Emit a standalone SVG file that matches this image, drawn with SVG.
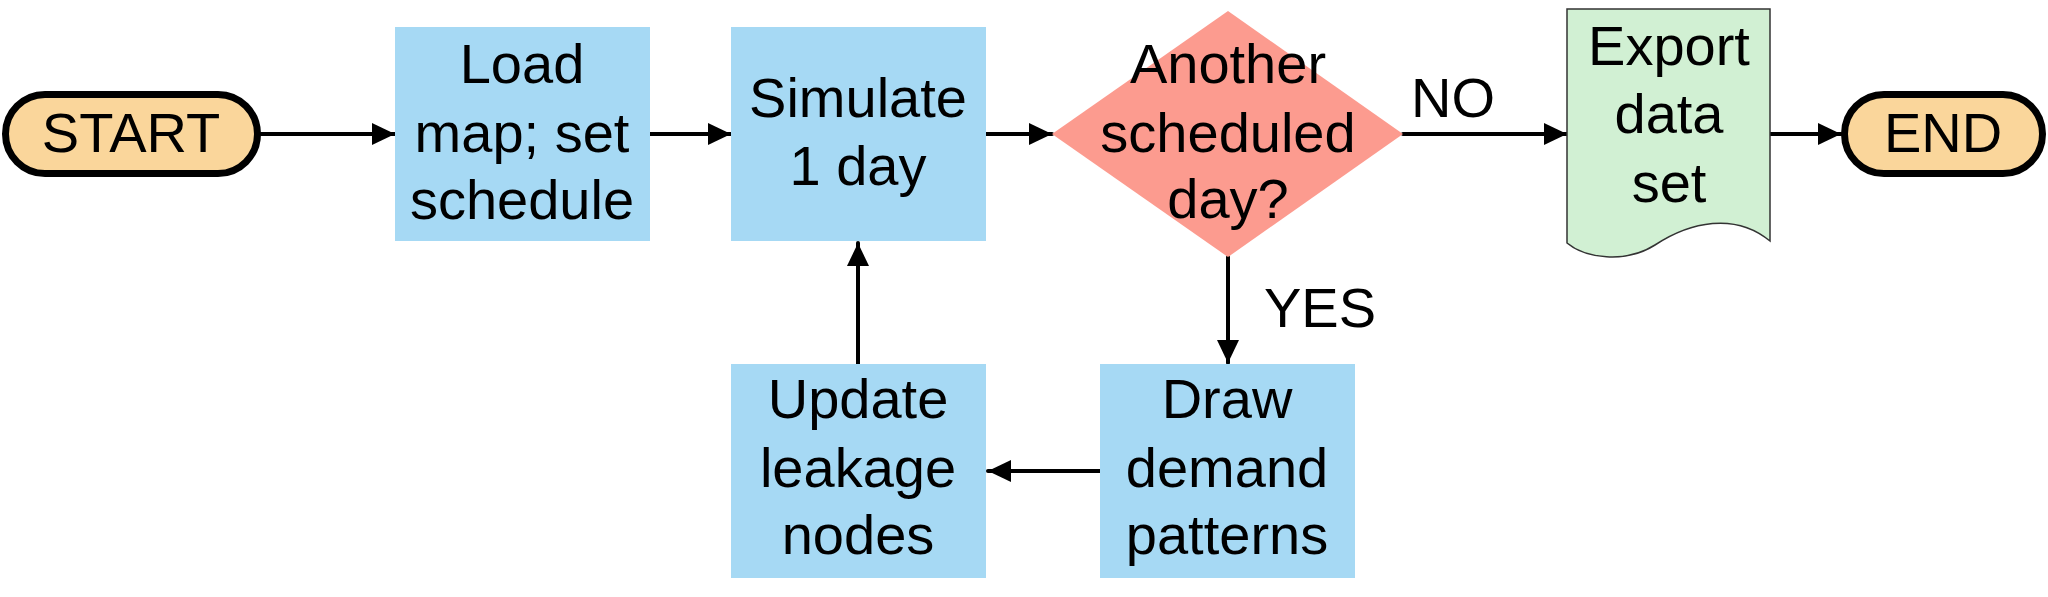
<svg xmlns="http://www.w3.org/2000/svg" width="2048" height="597" viewBox="0 0 2048 597">
<style>
text{font-family:"Liberation Sans",Arial,sans-serif;font-size:56px;fill:#000;text-anchor:middle}
.box{fill:#a6d9f4}
.pill{fill:#fad69b;stroke:#000;stroke-width:7}
.dia{fill:#fc9b8f}
.doc{fill:#d1f0d3;stroke:#333;stroke-width:1.5}
.con{stroke:#000;stroke-width:4;fill:none;stroke-linecap:round;marker-end:url(#ah)}
</style>
<defs>
<marker id="ah" markerUnits="userSpaceOnUse" markerWidth="24" markerHeight="24" refX="23" refY="11" orient="auto">
<path d="M0,0 L23,11 L0,22 z" fill="#000"/>
</marker>
</defs>
<rect width="2048" height="597" fill="#fff"/>
<g id="connectors">
<line class="con" x1="261" y1="134" x2="395" y2="134"/>
<line class="con" x1="650" y1="134" x2="731" y2="134"/>
<line class="con" x1="986" y1="134" x2="1052" y2="134"/>
<line class="con" x1="1403" y1="134" x2="1567" y2="134"/>
<line class="con" x1="1770" y1="134" x2="1841" y2="134"/>
<line class="con" x1="1228" y1="257" x2="1228" y2="363"/>
<line class="con" x1="1100" y1="471" x2="988" y2="471"/>
<line class="con" x1="858" y1="364" x2="858" y2="243"/>
<text x="1453" y="117">NO</text>
<text x="1320" y="327">YES</text>
</g>
<g id="start">
<rect class="pill" x="5.5" y="94.5" width="252" height="79" rx="39.5"/>
<text x="131" y="152">START</text>
</g>
<g id="load">
<rect class="box" x="395" y="27" width="255" height="214"/>
<text x="522" y="83">Load</text>
<text x="522" y="152">map; set</text>
<text x="522" y="219">schedule</text>
</g>
<g id="simulate">
<rect class="box" x="731" y="27" width="255" height="214"/>
<text x="858" y="117">Simulate</text>
<text x="858" y="185">1 day</text>
</g>
<g id="decision">
<polygon class="dia" points="1228,11 1403,134 1228,257 1052,134"/>
<text x="1228" y="83">Another</text>
<text x="1228" y="152">scheduled</text>
<text x="1228" y="218">day?</text>
</g>
<g id="export">
<path class="doc" d="M1567,9 H1770 V241 C1735,212 1690,222 1655,245 C1625,264 1585,258 1567,243 Z"/>
<text x="1669" y="65">Export</text>
<text x="1669" y="133">data</text>
<text x="1669" y="202">set</text>
</g>
<g id="end">
<rect class="pill" x="1844.5" y="94.5" width="198" height="79" rx="39.5"/>
<text x="1943" y="152">END</text>
</g>
<g id="draw">
<rect class="box" x="1100" y="364" width="255" height="214"/>
<text x="1227" y="418">Draw</text>
<text x="1227" y="487">demand</text>
<text x="1227" y="554">patterns</text>
</g>
<g id="update">
<rect class="box" x="731" y="364" width="255" height="214"/>
<text x="858" y="418">Update</text>
<text x="858" y="487">leakage</text>
<text x="858" y="554">nodes</text>
</g>
</svg>
